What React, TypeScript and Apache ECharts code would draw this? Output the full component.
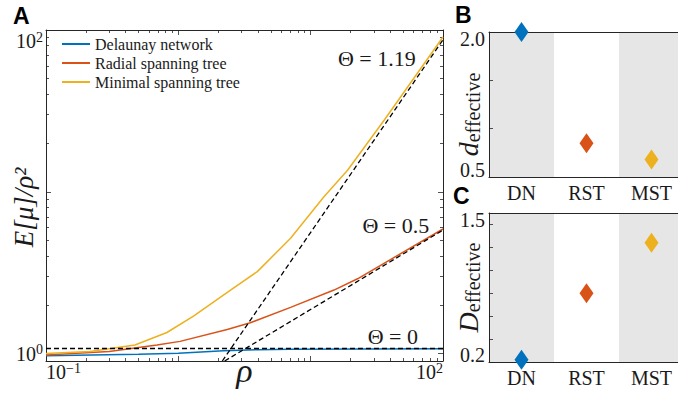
import React, { useEffect, useRef } from 'react';
import * as echarts from 'echarts';

// ---------- data ----------
const seriesNames = ['Delaunay network', 'Radial spanning tree', 'Minimal spanning tree'];
const seriesColors = ['#0072BD', '#D95319', '#EDB120'];

const dnRho = [0.1, 0.22, 0.5, 1.0, 2.2, 4, 7, 100];
const dnE = [0.97, 0.98, 0.99, 1.005, 1.04, 1.058, 1.065, 1.07];

const rstRho = [0.1, 0.3, 0.69, 1.03, 2.34, 3.5, 7.05, 15, 22.6, 100];
const rstE = [0.98, 1.03, 1.13, 1.19, 1.41, 1.55, 1.93, 2.47, 2.9, 5.89];

const mstRho = [0.1, 0.215, 0.47, 0.82, 1.31, 2.48, 3.95, 7.05, 12.6, 19, 35.9, 100];
const mstE = [1.0, 1.03, 1.13, 1.35, 1.71, 2.47, 3.21, 5.16, 9.31, 13.6, 27.7, 90.5];

const theta119Rho = [2.15, 100];
const theta119E = [0.9, 87];
const theta05Rho = [2.24, 100];
const theta05E = [0.9, 5.8];
const theta0Rho = [0.1, 100];
const theta0E = [1.075, 1.075];
const thetaLabels = ['Θ = 1.19', 'Θ = 0.5', 'Θ = 0'];

const categories = ['DN', 'RST', 'MST'];
const dEffective = [2.0, 0.85, 0.68];
const DEffective = [0.22, 0.8, 1.24];

const xRange = [0.1, 100];
const yRange = [0.9, 100];
const xLabelValues = [0.1, 100];
const yLabelValues = [1, 100];
const decadesX = [0.1, 1, 10];
const decadesY = [1, 10];
const minorMultipliers = [2, 3, 4, 5, 6, 7, 8, 9];

// ---------- helpers ----------
const FONT = "'Liberation Serif', 'Times New Roman', serif";
const AXIS = '#262626';
const TXT = '#1a1a1a';

// minor tick positions, expressed as log10 values for a linear tick-only axis
const xMinorLog = decadesX.flatMap((d) => minorMultipliers.map((m) => Math.log10(d * m)));
const yMinorLog = decadesY.flatMap((d) => minorMultipliers.map((m) => Math.log10(d * m)));

const zip = (a: number[], b: number[]) => a.map((v, i) => [v, b[i]]);
const sameLog = (v: number, list: number[]) => list.some((a) => Math.abs(Math.log10(v) - Math.log10(a)) < 1e-6);
const supText = (v: number) => {
  const e = Math.round(Math.log10(v));
  return `{b|10}{s|${e < 0 ? '\u2212' + Math.abs(e) : e}}`;
};
const supRich = {
  b: { fontSize: 20, fontFamily: FONT, color: TXT, lineHeight: 22 },
  s: { fontSize: 14, fontFamily: FONT, color: TXT, lineHeight: 14, verticalAlign: 'top' },
};

const tickStyle = { color: AXIS, width: 0.8 };
const lineStyleAxis = { color: AXIS, width: 1 };

function logX(position: 'top' | 'bottom', extra: any = {}) {
  return {
    type: 'log', gridIndex: 0, position, min: xRange[0], max: xRange[1], logBase: 10,
    axisLine: { show: true, onZero: false, lineStyle: lineStyleAxis },
    axisTick: { show: true, inside: true, length: 5, lineStyle: tickStyle },
    axisLabel: { show: false },
    splitLine: { show: false },
    ...extra,
  };
}
function minorX(position: 'top' | 'bottom') {
  return {
    type: 'value', gridIndex: 0, position, min: Math.log10(xRange[0]), max: Math.log10(xRange[1]),
    axisLine: { show: false, onZero: false },
    axisTick: { show: true, inside: true, length: 3, customValues: xMinorLog, lineStyle: tickStyle },
    axisLabel: { show: false },
    splitLine: { show: false },
  };
}
function logY(position: 'left' | 'right', extra: any = {}) {
  return {
    type: 'log', gridIndex: 0, position, min: yRange[0], max: yRange[1], logBase: 10,
    axisLine: { show: true, onZero: false, lineStyle: lineStyleAxis },
    axisTick: { show: true, inside: true, length: 5, lineStyle: tickStyle },
    axisLabel: { show: false },
    splitLine: { show: false },
    ...extra,
  };
}
function minorY(position: 'left' | 'right') {
  return {
    type: 'value', gridIndex: 0, position, min: Math.log10(yRange[0]), max: Math.log10(yRange[1]),
    axisLine: { show: false, onZero: false },
    axisTick: { show: true, inside: true, length: 3, customValues: yMinorLog, lineStyle: tickStyle },
    axisLabel: { show: false },
    splitLine: { show: false },
  };
}
function catAxis(gridIndex: number, position: 'top' | 'bottom', withLabels: boolean) {
  return {
    type: 'category', gridIndex, position, data: categories, boundaryGap: true,
    axisLine: { show: true, onZero: false, lineStyle: lineStyleAxis },
    axisTick: { show: false },
    axisLabel: withLabels ? { show: true, fontSize: 20, fontFamily: FONT, color: TXT, margin: 6 } : { show: false },
    splitLine: { show: false },
    splitArea: withLabels ? { show: true, areaStyle: { color: ['#e6e6e6', '#ffffff'] } } : { show: false },
  };
}
function valY(gridIndex: number, min: number, max: number, interval: number, name: string, shift: number) {
  return {
    type: 'value', gridIndex, position: 'left', min, max, interval,
    axisLine: { show: true, onZero: false, lineStyle: lineStyleAxis },
    axisTick: { show: true, inside: true, length: 4, lineStyle: tickStyle },
    axisLabel: {
      show: true, fontSize: 20, lineHeight: 14, fontFamily: FONT, color: TXT, margin: 4,
      verticalAlignMinLabel: 'bottom', verticalAlignMaxLabel: 'top',
      formatter: (v: number) => (Math.abs(v - min) < 1e-9 || Math.abs(v - max) < 1e-9 ? v.toFixed(1) : ''),
    },
    splitLine: { show: false },
    name, nameLocation: 'middle', nameGap: 6, nameRotate: 90, nameMoveOverlap: false,
    nameTextStyle: {
      fontFamily: FONT,
      padding: [0, shift, 0, 0],
      rich: {
        d: { fontSize: 28, fontStyle: 'italic', fontFamily: FONT, color: TXT, lineHeight: 30 },
        s: { fontSize: 20, fontFamily: FONT, color: TXT, lineHeight: 16, verticalAlign: 'bottom' },
      },
    },
  };
}

function markLabel(coord: number[], text: string) {
  return {
    symbol: 'circle', symbolSize: 1, silent: true,
    itemStyle: { color: 'rgba(0,0,0,0)' },
    label: { show: true, position: 'inside', formatter: text, fontSize: 22, fontFamily: FONT, color: TXT },
    data: [{ coord }],
  };
}

function buildOption(): any {
  const dashed = { color: '#000', width: 1.3, type: [5, 3] };
  const gridBase = { outerBoundsMode: 'none', containLabel: false };
  return {
    animation: false,
    backgroundColor: '#ffffff',
    textStyle: { fontFamily: FONT },
    grid: [
      { ...gridBase, left: 46, top: 30, width: 397, height: 331 },
      { ...gridBase, left: 489, top: 32, width: 195, height: 145 },
      { ...gridBase, left: 489, top: 213, width: 195, height: 149 },
    ],
    legend: {
      data: seriesNames.map((n) => ({ name: n, icon: 'rect' })),
      orient: 'vertical', left: 62, top: 36, padding: 0,
      itemWidth: 28, itemHeight: 2, itemGap: 3,
      textStyle: { fontSize: 16, fontFamily: FONT, color: TXT },
    },
    xAxis: [
      logX('bottom', {
        axisLabel: {
          show: true, margin: 0, alignMinLabel: 'left', alignMaxLabel: 'right',
          formatter: (v: number) => (sameLog(v, xLabelValues) ? supText(v) : ''),
          rich: supRich,
        },
        name: 'ρ', nameLocation: 'middle', nameGap: -6, nameMoveOverlap: false,
        nameTextStyle: { fontSize: 34, lineHeight: 30, fontStyle: 'italic', fontFamily: FONT, color: TXT, verticalAlign: 'top' },
      }),
      minorX('bottom'),
      logX('top'),
      minorX('top'),
      catAxis(1, 'bottom', true),
      catAxis(1, 'top', false),
      catAxis(2, 'bottom', true),
      catAxis(2, 'top', false),
    ],
    yAxis: [
      logY('left', {
        axisLabel: {
          show: true, margin: 3, verticalAlignMaxLabel: 'top',
          formatter: (v: number) => (sameLog(v, yLabelValues) ? supText(v) : ''),
          rich: supRich,
        },
        name: 'E[μ]/ρ²', nameLocation: 'middle', nameGap: 9, nameRotate: 90, nameMoveOverlap: false,
        nameTextStyle: { fontSize: 27, fontStyle: 'italic', fontFamily: FONT, color: TXT, padding: [0, 24, 0, 0] },
      }),
      minorY('left'),
      logY('right'),
      minorY('right'),
      valY(1, 0.5, 2.0, 0.5, '{d|d}{s|effective}', 20),
      valY(2, 0.2, 1.5, 0.2, '{d|D}{s|effective}', 0),
    ],
    series: [
      { type: 'line', name: seriesNames[0], xAxisIndex: 0, yAxisIndex: 0, data: zip(dnRho, dnE), symbol: 'none', color: seriesColors[0], lineStyle: { width: 1.5, color: seriesColors[0] }, z: 2 },
      { type: 'line', name: seriesNames[1], xAxisIndex: 0, yAxisIndex: 0, data: zip(rstRho, rstE), symbol: 'none', color: seriesColors[1], lineStyle: { width: 1.5, color: seriesColors[1] }, z: 2 },
      { type: 'line', name: seriesNames[2], xAxisIndex: 0, yAxisIndex: 0, data: zip(mstRho, mstE), symbol: 'none', color: seriesColors[2], lineStyle: { width: 1.5, color: seriesColors[2] }, z: 2 },
      { type: 'line', name: 'theta119', xAxisIndex: 0, yAxisIndex: 0, data: zip(theta119Rho, theta119E), symbol: 'none', lineStyle: dashed, z: 3,
        markPoint: markLabel([31.6, 66.9], thetaLabels[0]) },
      { type: 'line', name: 'theta05', xAxisIndex: 0, yAxisIndex: 0, data: zip(theta05Rho, theta05E), symbol: 'none', lineStyle: dashed, z: 3,
        markPoint: markLabel([44, 6.23], thetaLabels[1]) },
      { type: 'line', name: 'theta0', xAxisIndex: 0, yAxisIndex: 0, data: zip(theta0Rho, theta0E), symbol: 'none', lineStyle: dashed, z: 3,
        markPoint: markLabel([41.8, 1.27], thetaLabels[2]) },
      { type: 'scatter', xAxisIndex: 4, yAxisIndex: 4, symbol: 'diamond', symbolSize: [14, 20], clip: false,
        data: dEffective.map((v, i) => ({ value: v, itemStyle: { color: seriesColors[i], opacity: 1 } })) },
      { type: 'scatter', xAxisIndex: 6, yAxisIndex: 5, symbol: 'diamond', symbolSize: [14, 20], clip: false,
        data: DEffective.map((v, i) => ({ value: v, itemStyle: { color: seriesColors[i], opacity: 1 } })) },
    ],
    graphic: [
      { type: 'text', left: 13, top: 4, style: { text: 'A', font: 'bold 23px "Liberation Sans", Arial, sans-serif', fill: '#000' } },
      { type: 'text', left: 455, top: 3, style: { text: 'B', font: 'bold 23px "Liberation Sans", Arial, sans-serif', fill: '#000' } },
      { type: 'text', left: 453, top: 184, style: { text: 'C', font: 'bold 23px "Liberation Sans", Arial, sans-serif', fill: '#000' } },
    ],
  };
}

export default function App() {
  const ref = useRef<HTMLDivElement>(null);
  useEffect(() => {
    const chart = echarts.init(ref.current!, null, { renderer: 'svg' });
    chart.setOption(buildOption());
    return () => chart.dispose();
  }, []);
  return (
    <div
      ref={ref}
      style={{ position: 'fixed', left: 0, top: 0, width: 678, height: 394, background: '#fff' }}
    />
  );
}
